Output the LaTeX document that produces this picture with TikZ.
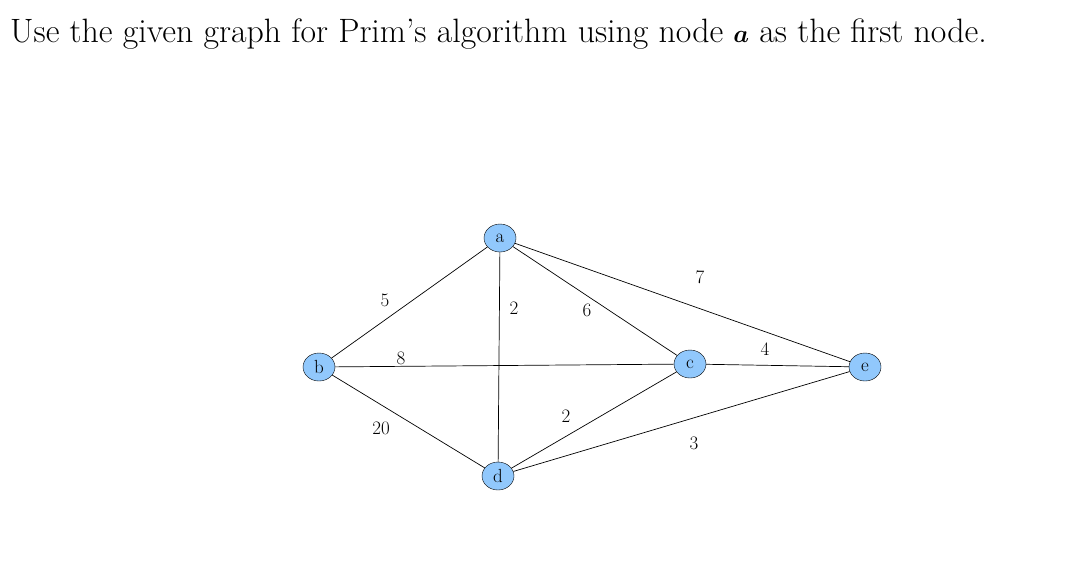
\documentclass[tikz,border=0pt]{standalone}
\usepackage{amsmath,bm}
\usetikzlibrary{shapes.geometric}
\definecolor{nodeblue}{RGB}{145,200,252}
\begin{document}
\begin{tikzpicture}[x=1pt,y=-1pt,
  vert/.style={ellipse,draw=black,fill=nodeblue,minimum width=32pt,minimum height=28pt,inner sep=0pt,font=\fontsize{19}{19}\selectfont},
  wt/.style={font=\fontsize{19}{19}\selectfont},
  edge/.style={draw=black,line width=0.7pt}]
\useasboundingbox (0,0) rectangle (1086,566);
\node[anchor=base west,inner sep=0pt,font=\fontsize{33.8}{38}\selectfont] (title) at (10,42) {Use the given graph for Prim's algorithm using node $\bm{a}$ as the first node.};
\node[vert] (a) at (500,238) {a};
\node[vert] (b) at (319,367) {b};
\node[vert] (c) at (690,364) {c};
\node[vert] (d) at (498,476) {d};
\node[vert] (e) at (865,367) {e};
\draw[edge] (a) -- (b);
\draw[edge] (a) -- (d);
\draw[edge] (a) -- (c);
\draw[edge] (a) -- (e);
\draw[edge] (b) -- (c);
\draw[edge] (b) -- (d);
\draw[edge] (c) -- (e);
\draw[edge] (c) -- (d);
\draw[edge] (d) -- (e);
\node[wt] (w1) at (385,300) {5};
\node[wt] (w2) at (514,308) {2};
\node[wt] (w3) at (587,310) {6};
\node[wt] (w4) at (401,358) {8};
\node[wt] (w5) at (700,277) {7};
\node[wt] (w6) at (765,349) {4};
\node[wt] (w7) at (566,416) {2};
\node[wt] (w8) at (381,428) {20};
\node[wt] (w9) at (694,443) {3};
\end{tikzpicture}
\end{document}
